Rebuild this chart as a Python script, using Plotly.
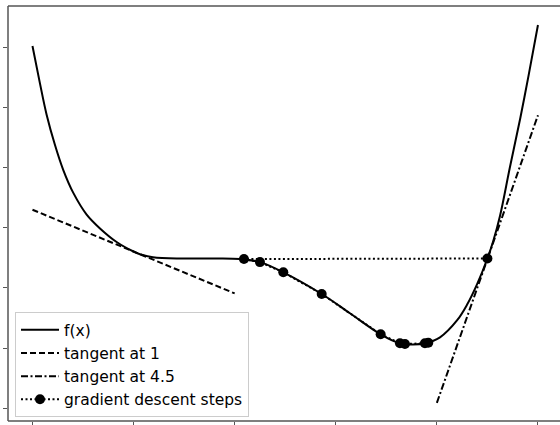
import plotly.graph_objects as go

# f(x)
fx_x = [0.00, 0.074, 0.140, 0.222, 0.305, 0.404, 0.536, 0.668, 0.836, 0.994,
        1.063, 1.192, 1.489, 1.822, 2.052, 2.250, 2.481, 2.861, 3.140, 3.444,
        3.635, 3.764, 3.882, 4.031, 4.199, 4.298, 4.397, 4.500, 4.558, 4.625,
        4.723, 4.826, 4.906, 5.00]
fx_y = [6.02, 5.40, 4.88, 4.38, 3.96, 3.58, 3.22, 2.99, 2.76, 2.61,
        2.56, 2.51, 2.49, 2.49, 2.48, 2.43, 2.26, 1.90, 1.58, 1.23,
        1.08, 1.06, 1.08, 1.18, 1.46, 1.72, 2.06, 2.49, 2.78, 3.20,
        4.01, 4.83, 5.52, 6.37]

# tangent lines
tan1_x = [0.0, 2.0]
tan1_y = [3.30, 1.91]
tan45_x = [4.0, 5.0]
tan45_y = [0.09, 4.87]

# gradient descent steps
gd_x = [4.50, 2.092, 2.25, 2.481, 2.861, 3.444, 3.635, 3.684, 3.882, 3.915]
gd_y = [2.49, 2.48, 2.43, 2.26, 1.90, 1.23, 1.08, 1.07, 1.08, 1.09]

x_ticks = [0, 1, 2, 3, 4, 5]
y_ticks = [0, 1, 2, 3, 4, 5, 6]

fig = go.Figure()
fig.add_trace(go.Scatter(x=fx_x, y=fx_y, mode="lines", name="f(x)",
                         line=dict(color="black", width=2, shape="spline", smoothing=1.0)))
fig.add_trace(go.Scatter(x=tan1_x, y=tan1_y, mode="lines", name="tangent at 1",
                         line=dict(color="black", width=2, dash="6px,3px")))
fig.add_trace(go.Scatter(x=tan45_x, y=tan45_y, mode="lines", name="tangent at 4.5",
                         line=dict(color="black", width=2, dash="7px,2.5px,2px,2.5px")))
fig.add_trace(go.Scatter(x=gd_x, y=gd_y, mode="lines+markers", name="gradient descent steps",
                         line=dict(color="black", width=2, dash="2px,2.5px"),
                         marker=dict(color="black", size=10)))

axis_common = dict(showgrid=False, zeroline=False, showline=False,
                   ticks="outside", ticklen=4, tickwidth=1.2,
                   tickcolor="#555", showticklabels=False)

spine = dict(color="#555", width=1.5)
fig.update_layout(
    width=560, height=425,
    margin=dict(l=8, r=0, t=6, b=4),
    paper_bgcolor="white", plot_bgcolor="white",
    font=dict(family="DejaVu Sans", size=15, color="black"),
    xaxis=dict(range=[-0.242, 5.218], tickvals=x_ticks, **axis_common),
    yaxis=dict(range=[-0.211, 6.686], tickvals=y_ticks, **axis_common),
    legend=dict(x=0.0127, y=0.009, xanchor="left", yanchor="bottom",
                bgcolor="rgba(255,255,255,0.85)", bordercolor="#cccccc", borderwidth=1,
                font=dict(family="DejaVu Sans", size=15.5), itemwidth=38,
                tracegroupgap=0),
    showlegend=True,
    shapes=[
        dict(type="line", xref="paper", yref="paper", x0=0, x1=0, y0=0, y1=1, line=spine),
        dict(type="line", xref="paper", yref="paper", x0=0, x1=1, y0=1, y1=1, line=spine),
        dict(type="line", xref="paper", yref="paper", x0=0, x1=1, y0=0, y1=0, line=spine),
    ],
)

fig.write_html("out.html", config={"displayModeBar": False},
               post_script="document.body.style.margin='0px';")
